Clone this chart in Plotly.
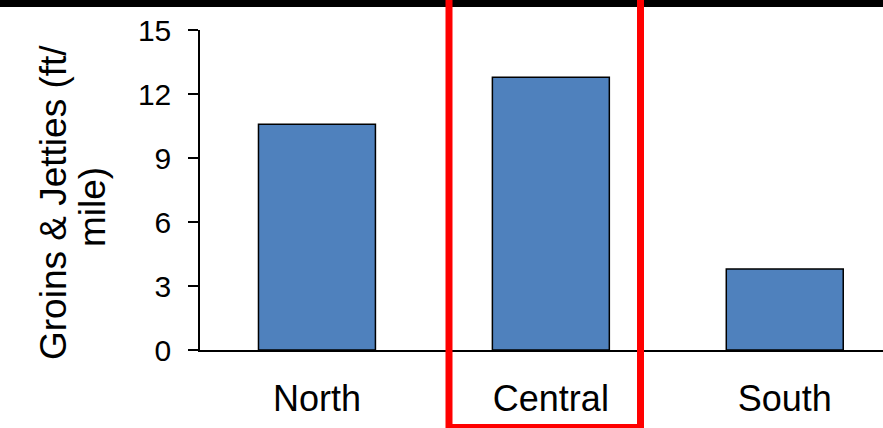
import plotly.graph_objects as go

categories = ["North", "Central", "South"]
values = [10.58, 12.78, 3.8]
y_ticks = [0, 3, 6, 9, 12, 15]
title_line1 = "Groins & Jetties (ft/"
title_line2 = "mile)"

W, H = 883, 428
L, R, T, B = 200, 0, 30, 78
pw, ph = W - L - R, H - T - B

def px(x):
    return (x - L) / pw

def py(y):
    return (H - B - y) / ph

FONT = "Arial, Liberation Sans, sans-serif"

fig = go.Figure(go.Bar(
    x=categories, y=values, width=0.5,
    marker=dict(color="#4F81BD", line=dict(color="black", width=1.5)),
))

fig.update_layout(
    width=W, height=H, margin=dict(l=L, r=R, t=T, b=B, pad=0),
    plot_bgcolor="white", paper_bgcolor="white", showlegend=False,
    font=dict(family=FONT, color="black"),
    xaxis=dict(range=[-0.5, 2.42], showline=True, linecolor="black", linewidth=1.5,
               ticks="", showgrid=False, zeroline=False,
               tickfont=dict(size=36, family=FONT, color="black"),
               ticklabelstandoff=16),
    yaxis=dict(range=[0, 15], tickvals=y_ticks, showline=True, linecolor="black",
               linewidth=1.5, ticks="outside", ticklen=10, tickwidth=1.5,
               tickcolor="black", showgrid=False, zeroline=False,
               tickfont=dict(size=30, family=FONT, color="black"),
               ticklabelstandoff=11),
)

for txt, cx, cy in [(title_line1, 53, 203), (title_line2, 92, 207)]:
    fig.add_annotation(text=txt, xref="paper", yref="paper", x=px(cx), y=py(cy),
                       xanchor="center", yanchor="middle", textangle=-90,
                       showarrow=False, font=dict(size=37, family=FONT, color="black"))

# black band at the top
fig.add_shape(type="rect", xref="paper", yref="paper",
              x0=px(-5), x1=px(W + 5), y0=py(7), y1=py(-5),
              fillcolor="black", line=dict(width=0), layer="above")
# red highlight frame
fig.add_shape(type="rect", xref="paper", yref="paper",
              x0=px(449), x1=px(640.5), y0=py(427.5), y1=py(-15),
              line=dict(color="#FF0000", width=7), fillcolor="rgba(0,0,0,0)", layer="above")

fig.write_html("out.html")
